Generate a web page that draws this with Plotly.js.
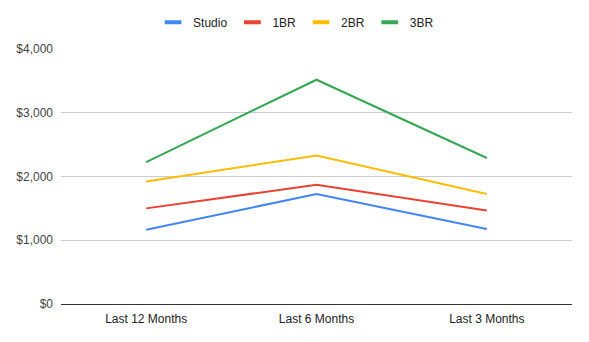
<!DOCTYPE html>
<html><head><meta charset="utf-8">
<script src="https://cdn.plot.ly/plotly-3.0.1.min.js"></script>
<style>html,body{margin:0;padding:0;background:#fff}#c{width:589px;height:342px}</style>
</head><body><div id="c"></div>
<script>
const categories = ["Last 12 Months", "Last 6 Months", "Last 3 Months"];
const studio = [1165, 1725, 1176];
const br1 = [1500, 1871, 1468];
const br2 = [1923, 2331, 1725];
const br3 = [2227, 3518, 2290];
const seriesNames = ["Studio", "1BR", "2BR", "3BR"];
const colors = ["#4285F4", "#EA4335", "#FBBC04", "#34A853"];
const yTicks = [0, 1000, 2000, 3000, 4000];
const yTickText = ["$0", "$1,000", "$2,000", "$3,000", "$4,000"];

const all = [studio, br1, br2, br3];
const lines = all.map((v, i) => ({
  x: categories, y: v, name: seriesNames[i], type: 'scatter', mode: 'lines',
  line: {color: colors[i], width: 2}, showlegend: false, legendgroup: seriesNames[i]
}));
const legendEntries = seriesNames.map((n, i) => ({
  x: [null], y: [null], name: n, type: 'scatter', mode: 'markers', legendgroup: n,
  marker: {symbol: 'line-ew-open', size: 12, color: colors[i], line: {color: colors[i], width: 4}}
}));
const layout = {
  width: 589, height: 342,
  margin: {l: 61, r: 17, t: 49, b: 38},
  paper_bgcolor: '#fff', plot_bgcolor: '#fff',
  font: {family: 'Liberation Sans, Arial, sans-serif', size: 12, color: '#444'},
  showlegend: true,
  legend: {orientation: 'h', x: 0.46, xanchor: 'center', y: 0.935, yanchor: 'middle',
    yref: 'container', font: {size: 12, color: '#222'}, itemwidth: 30, itemsizing: 'trace'},
  xaxis: {type: 'category', showgrid: false, zeroline: false, showline: false,
    tickfont: {color: '#222', size: 12}, ticks: '', ticklabelstandoff: 6, range: [-0.5, 2.5], fixedrange: true},
  yaxis: {range: [0, 4000], tickvals: yTicks, ticktext: yTickText, showgrid: true,
    gridcolor: '#cccccc', gridwidth: 1, zeroline: true, zerolinecolor: '#333', zerolinewidth: 1,
    tickfont: {color: '#444', size: 12}, ticks: '', ticklabelstandoff: 7, fixedrange: true}
};
Plotly.newPlot('c', lines.concat(legendEntries), layout, {staticPlot: true, displayModeBar: false});
</script></body></html>
